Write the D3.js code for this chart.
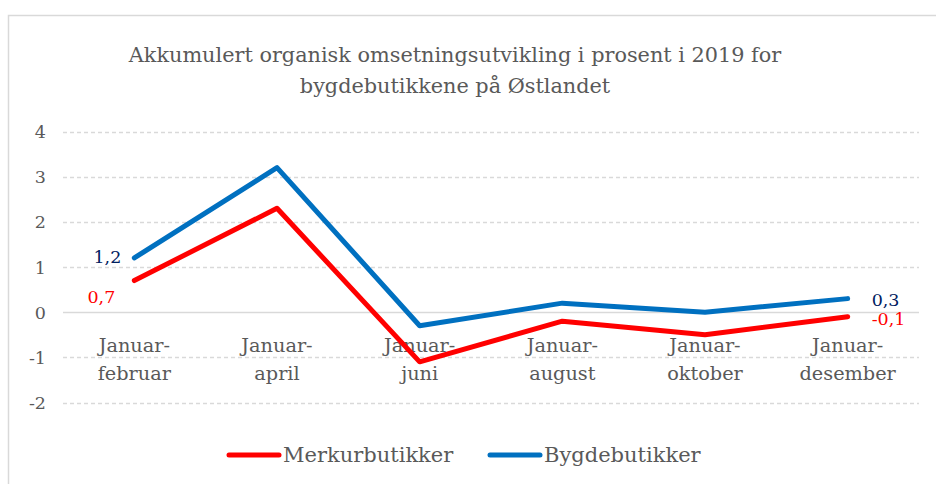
<!DOCTYPE html>
<html><head><meta charset="utf-8">
<script src="https://d3js.org/d3.v7.min.js"></script>
<style>body{margin:0;background:#fff}svg{display:block}</style>
</head><body>
<script>
const categories = [["Januar-","februar"],["Januar-","april"],["Januar-","juni"],["Januar-","august"],["Januar-","oktober"],["Januar-","desember"]];
const merkur = [0.7, 2.3, -1.1, -0.2, -0.5, -0.1];
const bygde = [1.2, 3.2, -0.3, 0.2, 0.0, 0.3];
const yTicks = [-2, -1, 0, 1, 2, 3, 4];
const seriesNames = ["Merkurbutikker", "Bygdebutikker"];
const titleLines = ["Akkumulert organisk omsetningsutvikling i prosent i 2019 for", "bygdebutikkene på Østlandet"];

const W = 936, H = 484;
const FONT = "'DejaVu Serif', serif";
const GRAY = "#595959";
const svg = d3.select("body").append("svg").attr("width", W).attr("height", H);

svg.append("rect").attr("x", 8.5).attr("y", 15.5).attr("width", 960).attr("height", 500)
  .attr("fill", "#fff").attr("stroke", "#d9d9d9").attr("stroke-width", 1.5);

const idx = d3.range(categories.length);
const x = d3.scaleBand().domain(idx).range([63, 919]).padding(0);
const cx = i => x(i) + x.bandwidth() / 2;
const y = d3.scaleLinear().domain([-2, 4]).range([402.5, 131.5]);

// title
svg.append("g").selectAll("text").data(titleLines).join("text")
  .attr("x", 455).attr("y", (d, i) => 62 + i * 31)
  .attr("text-anchor", "middle").attr("font-family", FONT).attr("font-size", 20.8)
  .attr("fill", GRAY).text(d => d);

// y axis labels
const yAxis = d3.axisLeft(y).tickValues(yTicks).tickSize(0).tickPadding(0)
  .tickFormat(d => String(d));
const gy = svg.append("g").attr("transform", "translate(46,0)").call(yAxis);
gy.select(".domain").remove();
gy.selectAll("text").attr("font-family", FONT).attr("font-size", 17.5).attr("fill", GRAY).attr("dy", "0.35em");

// gridlines
svg.append("g").selectAll("line").data(yTicks).join("line")
  .attr("x1", 63).attr("x2", 919).attr("y1", d => Math.round(y(d)) + 0.5).attr("y2", d => Math.round(y(d)) + 0.5)
  .attr("stroke", "#d9d9d9").attr("stroke-width", 1.3)
  .attr("stroke-dasharray", d => d === 0 ? null : "4,3");

// category labels
const gx = svg.append("g").attr("transform", `translate(0,${y(0)})`);
gx.selectAll("text").data(idx).join("text")
  .attr("x", cx).attr("y", 40)
  .attr("text-anchor", "middle").attr("font-family", FONT).attr("font-size", 19.3).attr("fill", GRAY)
  .each(function(i) {
    d3.select(this).selectAll("tspan").data(categories[i]).join("tspan")
      .attr("x", cx(i)).attr("dy", (d, k) => k === 0 ? 0 : 28).text(d => d);
  });

// lines
const line = d3.line().x((d, i) => cx(i)).y(d => y(d));
const series = [{v: merkur, c: "#ff0000"}, {v: bygde, c: "#0070c0"}];
svg.append("g").selectAll("path").data(series).join("path")
  .attr("d", d => line(d.v)).attr("fill", "none").attr("stroke", d => d.c)
  .attr("stroke-width", 5).attr("stroke-linejoin", "round").attr("stroke-linecap", "round");

// data labels
const fmt = v => d3.format(".1f")(v).replace(".", ",").replace("−", "-");
const n = categories.length - 1;
const labels = [
  {v: merkur[0], i: 0, c: "#ff0000", dx: -19, dy: 16, a: "end"},
  {v: bygde[0], i: 0, c: "#002060", dx: -13, dy: -1, a: "end"},
  {v: bygde[n], i: n, c: "#002060", dx: 24, dy: 1, a: "start"},
  {v: merkur[n], i: n, c: "#ff0000", dx: 24, dy: 2, a: "start"}
];
svg.append("g").selectAll("text").data(labels).join("text")
  .attr("x", d => cx(d.i) + d.dx).attr("y", d => y(d.v) + d.dy).attr("dy", "0.35em")
  .attr("text-anchor", d => d.a).attr("font-family", FONT).attr("font-size", 17.5)
  .attr("fill", d => d.c).text(d => fmt(d.v));

// legend
const legend = svg.append("g");
const legItems = [{name: seriesNames[0], c: "#ff0000", x: 229}, {name: seriesNames[1], c: "#0070c0", x: 490}];
legItems.forEach(it => {
  legend.append("line").attr("x1", it.x).attr("x2", it.x + 50).attr("y1", 455).attr("y2", 455)
    .attr("stroke", it.c).attr("stroke-width", 5).attr("stroke-linecap", "round");
  legend.append("text").attr("x", it.x + 54).attr("y", 455).attr("dy", "0.35em")
    .attr("font-family", FONT).attr("font-size", 21).attr("fill", GRAY).text(it.name);
});
</script>
</body></html>
